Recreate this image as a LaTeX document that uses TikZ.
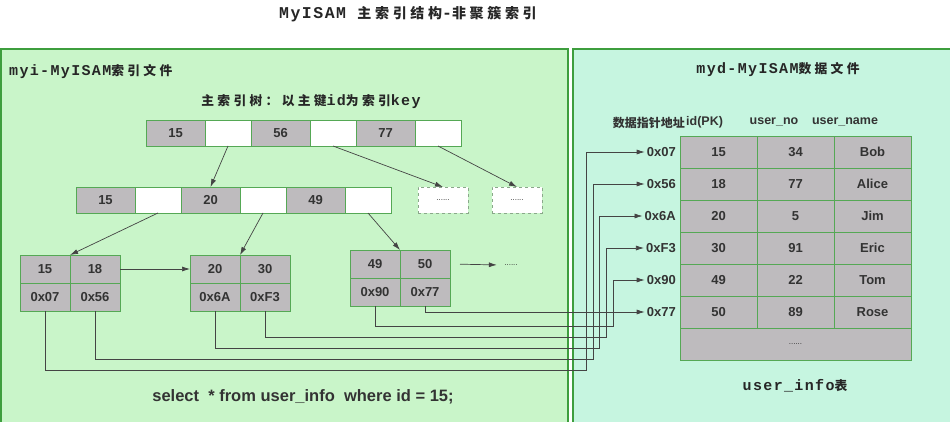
\documentclass[tikz,border=0pt]{standalone}
\usepackage{fontspec}
\setmainfont{Liberation Sans}
\newfontfamily\cjk{Noto Sans CJK SC}
\newfontfamily\hdlatin[LetterSpace=9]{Liberation Mono}
\newfontfamily\hdcjk[Scale=0.85,LetterSpace=26]{Noto Sans CJK SC}
\newcommand{\zh}[1]{{\hdcjk #1}}
\usetikzlibrary{arrows.meta,positioning}

\definecolor{leftbg}{HTML}{C9F5C9}
\definecolor{rightbg}{HTML}{C6F5E0}
\definecolor{panelline}{HTML}{3E9E3E}
\definecolor{cellline}{HTML}{55A855}
\definecolor{cellgray}{HTML}{BEBBBE}
\definecolor{dotline}{HTML}{8AA88A}
\definecolor{txt}{HTML}{333333}
\definecolor{headtxt}{HTML}{262626}
\definecolor{linegray}{HTML}{444444}

\begin{document}
\begin{tikzpicture}[>={Latex[length=8pt,width=5pt]}, x=1pt, y=-1pt,
  cell/.style={draw=cellline, line width=0.8pt, outer sep=0pt, inner sep=0pt,
    text=txt, font=\bfseries\fontsize{13}{15}\selectfont},
  keycell/.style={cell, fill=cellgray, minimum width=59pt, minimum height=26pt},
  ptrcell/.style={cell, fill=white, minimum width=46pt, minimum height=26pt},
  leafcell/.style={cell, fill=cellgray, minimum width=50pt, minimum height=28pt},
  tabcell/.style={cell, fill=cellgray, minimum width=77pt, minimum height=32pt},
  dotbox/.style={cell, fill=white, draw=dotline, dashed, minimum width=50pt,
    minimum height=26pt, font=\fontsize{8}{9}\selectfont},
  addr/.style={text=txt, inner sep=2pt, font=\bfseries\fontsize{13}{15}\selectfont},
  hdr/.style={text=txt, inner sep=0pt, font=\bfseries\fontsize{12.5}{14}\selectfont},
  heading/.style={text=headtxt, inner sep=0pt, font=\hdlatin\bfseries\fontsize{15}{17}\selectfont},
  link/.style={->, draw=linegray, line width=0.7pt}
]
  \useasboundingbox (0,0) rectangle (950,422);

  % --------- panels ----------
  \fill[leftbg] (1,49) rectangle (568,430);
  \draw[panelline, line width=1.5pt] (1,430) -- (1,49) -- (568,49) -- (568,430);
  \fill[rightbg] (573,49) rectangle (960,430);
  \draw[panelline, line width=1.5pt] (573,430) -- (573,49) -- (960,49);

  % Titles
  \node[heading, font=\hdlatin\bfseries\fontsize{16.5}{18}\selectfont] (title) at (408,14)
    {MyISAM \zh{主索引结构}-\zh{非聚簇索引}};
  \node[heading, anchor=west] (myi) at (9,72) {myi-MyISAM\zh{索引文件}};
  \node[heading] (myd) at (778,70) {myd-MyISAM\zh{数据文件}};
  \node[heading] (treelbl) at (311,102) {\zh{主索引树：以主键}id\zh{为索引}key};

  % ============== Index tree =================
  % Root
  \node[keycell] (rk1) at (175.5,133) {15};
  \node[ptrcell, right=0pt of rk1] (rp1) {};
  \node[keycell, right=0pt of rp1] (rk2) {56};
  \node[ptrcell, right=0pt of rk2] (rp2) {};
  \node[keycell, right=0pt of rp2] (rk3) {77};
  \node[ptrcell, right=0pt of rk3] (rp3) {};

  % Second level
  \node[keycell] (ik1) at (105.5,200) {15};
  \node[ptrcell, right=0pt of ik1] (ip1) {};
  \node[keycell, right=0pt of ip1] (ik2) {20};
  \node[ptrcell, right=0pt of ik2] (ip2) {};
  \node[keycell, right=0pt of ip2] (ik3) {49};
  \node[ptrcell, right=0pt of ik3] (ip3) {};

  \node[dotbox] (dash1) at (443,200) {......};
  \node[dotbox] (dash2) at (517,200) {......};

  % Leaves: keys on top, data pointers below
  \node[leafcell] (l15) at (45,269) {15};
  \node[leafcell, right=0pt of l15] (l18) {18};
  \node[leafcell, below=0pt of l15] (p07) {0x07};
  \node[leafcell, below=0pt of l18] (p56) {0x56};

  \node[leafcell] (l20) at (215,269) {20};
  \node[leafcell, right=0pt of l20] (l30) {30};
  \node[leafcell, below=0pt of l20] (p6A) {0x6A};
  \node[leafcell, below=0pt of l30] (pF3) {0xF3};

  \node[leafcell] (l49) at (375,264) {49};
  \node[leafcell, right=0pt of l49] (l50) {50};
  \node[leafcell, below=0pt of l49] (p90) {0x90};
  \node[leafcell, below=0pt of l50] (p77) {0x77};

  \node[text=txt, font=\fontsize{8}{9}\selectfont] (more) at (511,265) {......};

  % Tree links
  \draw[link] (rp1.south) -- (ik2.north);
  \draw[link] (rp2.south) -- (dash1.north);
  \draw[link] (rp3.south) -- (dash2.north);
  \draw[link] (ip1.south) -- (l18.north west);
  \draw[link] (ip2.south) -- (l30.north west);
  \draw[link] (ip3.south) -- (l50.north west);
  \draw[link] (l18.east) -- (l20.west);
  \draw[link, shorten <=10pt, shorten >=4pt] (l50.east) -- (more.west);

  \node[text=txt, font=\bfseries\fontsize{16.5}{18}\selectfont] (query) at (303,397)
    {select\ \ * from user\_info\ \ where id = 15;};

  % ============== Data file =================
  \node[hdr, anchor=east, font=\bfseries\fontsize{12}{14}\selectfont] (hdaddr) at (685,123) {\cjk 数据指针地址};
  \node[hdr, anchor=west] (hdid) at (686,122) {id(PK)};
  \node[hdr] (hdno) at (774,122) {user\_no};
  \node[hdr] (hdnm) at (845,122) {user\_name};

  \foreach [count=\i] \id/\no/\nm/\ad in
    {15/34/Bob/07, 18/77/Alice/56, 20/5/Jim/6A, 30/91/Eric/F3, 49/22/Tom/90, 50/89/Rose/77} {
    \node[tabcell] (id\i) at (718.5,120+32*\i) {\id};
    \node[tabcell, right=0pt of id\i] (no\i) {\no};
    \node[tabcell, right=0pt of no\i] (nm\i) {\nm};
    \node[addr, left=2pt of id\i] (a\ad) {0x\ad};
  }
  \node[tabcell, minimum width=231pt, anchor=north west, font=\fontsize{8}{9}\selectfont]
    (rest) at (id6.south west) {......};

  \node[heading] (tblname) at (795,386) {user\_info\zh{表}};

  % Pointers into the data file
  \foreach \p/\y/\x in {07/370/586, 56/359/593, 6A/348/599, F3/337/606, 90/326/613}
    \draw[link] (p\p.south) |- (\x,\y) |- (a\p.west);
  \draw[link] (p77.south) |- (a77.west);

\end{tikzpicture}
\end{document}
